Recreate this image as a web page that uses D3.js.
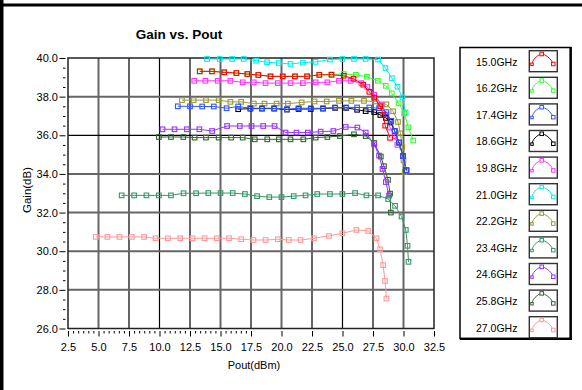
<!DOCTYPE html>
<html>
<head>
<meta charset="utf-8">
<script src="https://cdn.jsdelivr.net/npm/d3@7"></script>
<style>
	body { margin: 0; background: #fff; }
	svg { display: block; font-family: 'Liberation Sans', Arial, sans-serif; }
	.tick text { font-size: 11px; fill: #000; }
	.tick line { stroke: #000; }
</style>
</head>
<body>
<svg id="chart" width="582" height="390"></svg>
<script>
// values: [Pout dBm, Gain dB]
const freqs = ['15.0GHz', '16.2GHz', '17.4GHz', '18.6GHz', '19.8GHz', '21.0GHz',
	'22.2GHz', '23.4GHz', '24.6GHz', '25.8GHz', '27.0GHz'];
const colors = ['#ff0000', '#33ff33', '#3355ff', '#000000', '#ff33ff', '#00f0f0',
	'#999933', '#339966', '#9933ff', '#336633', '#ff9999'];

const s150 = [[13.3, 39.31], [14.3, 39.31], [15.3, 39.26], [16.3, 39.22], [17.2, 39.17], [18.1, 39.12],
	[19.1, 39.05], [20.1, 39.05], [21.1, 39.05], [22.1, 39.05], [23.1, 39.13], [24.1, 39.13], [25.1, 39.08],
	[25.9, 38.93], [26.7, 38.62], [27.2, 38.25], [27.6, 37.95], [28.1, 37.5], [28.35, 37.05], [28.5, 36.5],
	[28.9, 35.87]];
const s162 = [[13.3, 39.31], [14.3, 39.31], [15.3, 39.26], [16.3, 39.22], [17.2, 39.17], [18.1, 39.12],
	[19.1, 39.05], [20.1, 39.05], [21.1, 39.05], [22.1, 39.05], [23.1, 39.13], [24.1, 39.15], [25.1, 39.17],
	[26.1, 39.13], [27.0, 39.03], [27.9, 38.82], [28.55, 38.56], [29.04, 38.17], [29.6, 37.65], [30.05, 37.14],
	[30.4, 36.41], [30.8, 35.73]];
const s174 = [[11.5, 37.5], [12.5, 37.5], [13.5, 37.49], [14.45, 37.49], [15.5, 37.4], [16.45, 37.49],
	[17.45, 37.4], [18.4, 37.4], [19.4, 37.4], [20.45, 37.35], [21.4, 37.4], [22.4, 37.4], [23.4, 37.4],
	[24.4, 37.44], [25.3, 37.44], [26.2, 37.44], [27.2, 37.44], [28.0, 37.4], [28.6, 37.2], [29.0, 36.75],
	[29.28, 36.22], [29.63, 35.62], [29.96, 34.92], [30.24, 34.19]];
const s186 = [[16.45, 37.35], [17.45, 37.38], [18.4, 37.38], [19.4, 37.38], [20.45, 37.33], [21.4, 37.36],
	[22.4, 37.36], [23.4, 37.38], [24.4, 37.42], [25.3, 37.42], [26.2, 37.32], [26.9, 37.25], [27.6, 37.2],
	[28.1, 37.05], [28.55, 36.9], [28.95, 36.7], [29.28, 36.22], [29.63, 35.62], [29.96, 34.92], [30.24, 34.19]];
const s198 = [[12.85, 38.82], [13.76, 38.82], [14.77, 38.82], [15.81, 38.82], [16.82, 38.74], [17.73, 38.74],
	[18.69, 38.7], [19.7, 38.7], [20.74, 38.7], [21.75, 38.7], [22.8, 38.74], [23.76, 38.74], [24.71, 38.82],
	[25.67, 38.82], [26.55, 38.7], [27.04, 38.5], [27.6, 38.1], [28.2, 37.6], [28.6, 37.07], [28.9, 36.4],
	[29.3, 35.95], [29.5, 35.5]];
const s210 = [[13.9, 39.95], [14.94, 39.95], [15.95, 39.95], [16.9, 39.95], [17.92, 39.86], [18.82, 39.78],
	[19.78, 39.74], [20.74, 39.69], [21.75, 39.76], [22.79, 39.8], [23.97, 39.92], [24.99, 39.95], [25.94, 39.95],
	[26.9, 39.95], [27.92, 39.92], [28.52, 39.48], [29.04, 38.96], [29.51, 38.51], [29.92, 37.96], [30.17, 37.18]];
const s222 = [[11.84, 37.82], [12.8, 37.82], [13.81, 37.82], [14.85, 37.82], [15.81, 37.73], [16.69, 37.73],
	[17.73, 37.64], [18.61, 37.64], [19.6, 37.64], [20.52, 37.64], [21.65, 37.7], [22.71, 37.75], [23.7, 37.75],
	[24.71, 37.78], [25.73, 37.78], [26.76, 37.78], [27.7, 37.75], [28.6, 37.6], [29.15, 37.24], [29.55, 36.69],
	[29.75, 36.1], [29.9, 35.4], [30.0, 34.7], [30.1, 34.1]];
const s234 = [[6.9, 32.89], [7.92, 32.89], [8.93, 32.89], [9.95, 32.89], [10.94, 32.89], [11.97, 33.0],
	[13.0, 33.0], [14.0, 33.01], [15.0, 33.01], [16.0, 33.01], [17.0, 32.96], [18.0, 32.85], [19.0, 32.8],
	[20.0, 32.8], [21.0, 32.85], [21.97, 32.89], [22.93, 32.96], [23.97, 32.96], [24.99, 32.96], [26.03, 33.01],
	[26.96, 32.89], [27.92, 32.89], [28.74, 32.7], [29.31, 32.35], [29.84, 31.8], [30.19, 31.1], [30.33, 30.28],
	[30.41, 29.45]];
const s246 = [[10.25, 36.31], [11.23, 36.31], [12.25, 36.31], [13.27, 36.31], [14.31, 36.22], [15.54, 36.48],
	[16.58, 36.48], [17.54, 36.48], [18.5, 36.48], [19.43, 36.48], [20.33, 36.14], [21.23, 36.14], [22.16, 36.14],
	[23.21, 36.19], [24.25, 36.22], [25.26, 36.43], [26.22, 36.4], [26.9, 36.14], [27.6, 35.53], [28.0, 34.95],
	[28.28, 34.26], [28.55, 33.58], [28.82, 32.88]];
const s258 = [[9.95, 35.91], [10.94, 35.91], [11.95, 35.91], [12.88, 35.88], [13.81, 35.88], [14.85, 35.88],
	[15.87, 35.88], [16.82, 35.88], [17.81, 35.79], [18.83, 35.79], [19.78, 35.79], [20.74, 35.79], [21.79, 35.79],
	[22.8, 35.88], [23.76, 35.91], [24.79, 35.96], [25.94, 36.05], [26.9, 35.96], [27.6, 35.6], [28.14, 34.9],
	[28.4, 34.4], [28.73, 33.7], [28.9, 32.98], [28.96, 32.0]];
const s270 = [[4.78, 30.74], [5.73, 30.74], [6.72, 30.74], [7.73, 30.74], [8.74, 30.74], [9.67, 30.67],
	[10.69, 30.67], [11.7, 30.67], [12.71, 30.67], [13.7, 30.67], [14.7, 30.67], [15.7, 30.67], [16.7, 30.62],
	[17.7, 30.58], [18.7, 30.58], [19.7, 30.62], [20.6, 30.58], [21.56, 30.58], [22.66, 30.67], [23.89, 30.79],
	[24.99, 30.93], [26.14, 31.1], [27.1, 31.05], [27.79, 30.67], [28.08, 30.1], [28.33, 29.28], [28.49, 28.46],
	[28.6, 27.55]];

const series = [s150, s162, s174, s186, s198, s210, s222, s234, s246, s258, s270];

const xTicks = d3.range(2.5, 32.6, 2.5);
const yTicks = d3.range(26, 40.1, 2);

const $svg = d3.select('#chart');

const x = d3.scaleLinear().domain([2.5, 32.5]).range([68, 434]);
const y = d3.scaleLinear().domain([26, 40]).range([328.5, 58]);

// lines that come out black / thin in the original bitmap
const darkX = [10, 17.5, 25];
const darkY = [36];

function drawFrame() {
	$svg.append('rect').attr('x', 0).attr('y', 0).attr('width', 3.5).attr('height', 390).attr('fill', '#000');
	$svg.append('rect').attr('x', 0).attr('y', 3.5).attr('width', 582).attr('height', 3).attr('fill', '#000');
}

function drawGrid() {
	const $g = $svg.append('g').attr('class', 'grid');
	$g.selectAll('.vx')
		.data(xTicks.slice(1, -1))
		.enter()
		.append('line')
		.attr('x1', d => x(d)).attr('x2', d => x(d))
		.attr('y1', y(40)).attr('y2', y(26))
		.attr('stroke', d => darkX.includes(d) ? '#000' : '#666')
		.attr('stroke-width', d => darkX.includes(d) ? 1.2 : 2);
	$g.selectAll('.hy')
		.data(yTicks.slice(1, -1))
		.enter()
		.append('line')
		.attr('y1', d => y(d)).attr('y2', d => y(d))
		.attr('x1', x(2.5)).attr('x2', x(32.5))
		.attr('stroke', d => darkY.includes(d) ? '#000' : '#666')
		.attr('stroke-width', d => darkY.includes(d) ? 1.2 : 2);
	$svg.append('rect')
		.attr('x', x(2.5)).attr('y', y(40))
		.attr('width', x(32.5) - x(2.5)).attr('height', y(26) - y(40))
		.attr('fill', 'none').attr('stroke', '#222').attr('stroke-width', 1.5);
}

function drawAxes() {
	const minorY = d3.range(26, 40.01, 0.5).filter(d => d % 2 !== 0);
	const minorX = d3.range(0, 36).map(i => 2.5 + i * 2.5 / 6).filter((d, i) => i % 6 !== 0);

	const yAxis = d3.axisLeft(y).tickValues(yTicks).tickFormat(d3.format('.1f'))
		.tickSizeInner(6).tickSizeOuter(0).tickPadding(1.5);
	$svg.append('g').attr('transform', 'translate(65.5,0)').call(yAxis)
		.call(g => g.select('.domain').remove());
	$svg.append('g').attr('transform', 'translate(65.5,0)')
		.call(d3.axisLeft(y).tickValues(minorY).tickFormat('').tickSizeInner(2.5).tickSizeOuter(0))
		.call(g => g.select('.domain').remove());

	const xAxis = d3.axisBottom(x).tickValues(xTicks).tickFormat(d3.format('.1f'))
		.tickSizeInner(5.5).tickSizeOuter(0).tickPadding(6.5);
	$svg.append('g').attr('transform', 'translate(0,331)').call(xAxis)
		.call(g => g.select('.domain').remove());
	$svg.append('g').attr('transform', 'translate(0,331)')
		.call(d3.axisBottom(x).tickValues(minorX).tickFormat('').tickSizeInner(2.5).tickSizeOuter(0))
		.call(g => g.select('.domain').remove());

	$svg.append('text').attr('x', 179).attr('y', 38.5).attr('text-anchor', 'middle')
		.attr('font-size', 13.5).attr('font-weight', 'bold').text('Gain vs. Pout');
	$svg.append('text').attr('x', 254).attr('y', 369).attr('text-anchor', 'middle')
		.attr('font-size', 11).text('Pout(dBm)');
	$svg.append('text').attr('transform', 'translate(31,190) rotate(-90)').attr('text-anchor', 'middle')
		.attr('font-size', 11.5).text('Gain(dB)');
}

function drawSeries() {
	const line = d3.line().x(d => x(d[0])).y(d => y(d[1]));
	const $g = $svg.append('g').attr('class', 'series');
	// last frequency first, so 15.0GHz ends up on top like in the original
	d3.range(series.length - 1, -1, -1).forEach(i => {
		const data = series[i];
		const $s = $g.append('g');
		$s.append('path').attr('d', line(data))
			.attr('fill', 'none').attr('stroke', colors[i]).attr('stroke-width', 1);
		$s.selectAll('rect')
			.data(data)
			.enter()
			.append('rect')
			.attr('x', d => x(d[0]) - 2.3).attr('y', d => y(d[1]) - 2.3)
			.attr('width', 4.6).attr('height', 4.6)
			.attr('fill', 'none').attr('stroke', colors[i]).attr('stroke-width', 1.1);
	});
}

function drawLegend() {
	const $g = $svg.append('g').attr('class', 'legend');
	$g.append('rect').attr('x', 460).attr('y', 47.5).attr('width', 110.5).attr('height', 291)
		.attr('fill', '#fff').attr('stroke', '#000').attr('stroke-width', 1.5);
	$g.append('line').attr('x1', 570.7).attr('x2', 570.7).attr('y1', 47).attr('y2', 340)
		.attr('stroke', '#000').attr('stroke-width', 2.4);
	$g.append('line').attr('x1', 460).attr('x2', 572).attr('y1', 338.9).attr('y2', 338.9)
		.attr('stroke', '#000').attr('stroke-width', 2.4);

	// little arch glyph inside each swatch box
	const glyph = [[2.7, 13.3], [4.2, 9.3], [7.5, 5.8], [12.4, 3.3], [18, 5.8], [21.7, 9.3], [24, 13.3]];
	const glyphMarks = [[2.7, 13.6, 2.5], [12.4, 3.3, 3.5], [24, 13.3, 3.5]];
	const glyphLine = d3.line().curve(d3.curveCatmullRom);

	const $item = $g.selectAll('.item')
		.data(freqs)
		.enter()
		.append('g')
		.attr('class', 'item')
		.attr('transform', (d, i) => `translate(0,${i * 26.6})`);

	$item.append('text').attr('x', 476).attr('y', 65.5)
		.attr('font-size', 10.5).text(d => d);

	const $box = $item.append('g').attr('transform', 'translate(529.3,50.7)');
	$box.append('rect').attr('width', 28).attr('height', 21)
		.attr('fill', '#fff').attr('stroke', '#333').attr('stroke-width', 1.4);
	$box.append('path').attr('d', glyphLine(glyph))
		.attr('fill', 'none').attr('stroke', (d, i) => colors[i]).attr('stroke-width', 1);
	glyphMarks.forEach(m => {
		$box.append('rect')
			.attr('x', m[0] - m[2] / 2).attr('y', m[1] - m[2] / 2)
			.attr('width', m[2]).attr('height', m[2])
			.attr('fill', '#fff').attr('stroke', (d, i) => colors[i]).attr('stroke-width', 1);
	});
}

drawFrame();
drawGrid();
drawAxes();
drawSeries();
drawLegend();
</script>
</body>
</html>
